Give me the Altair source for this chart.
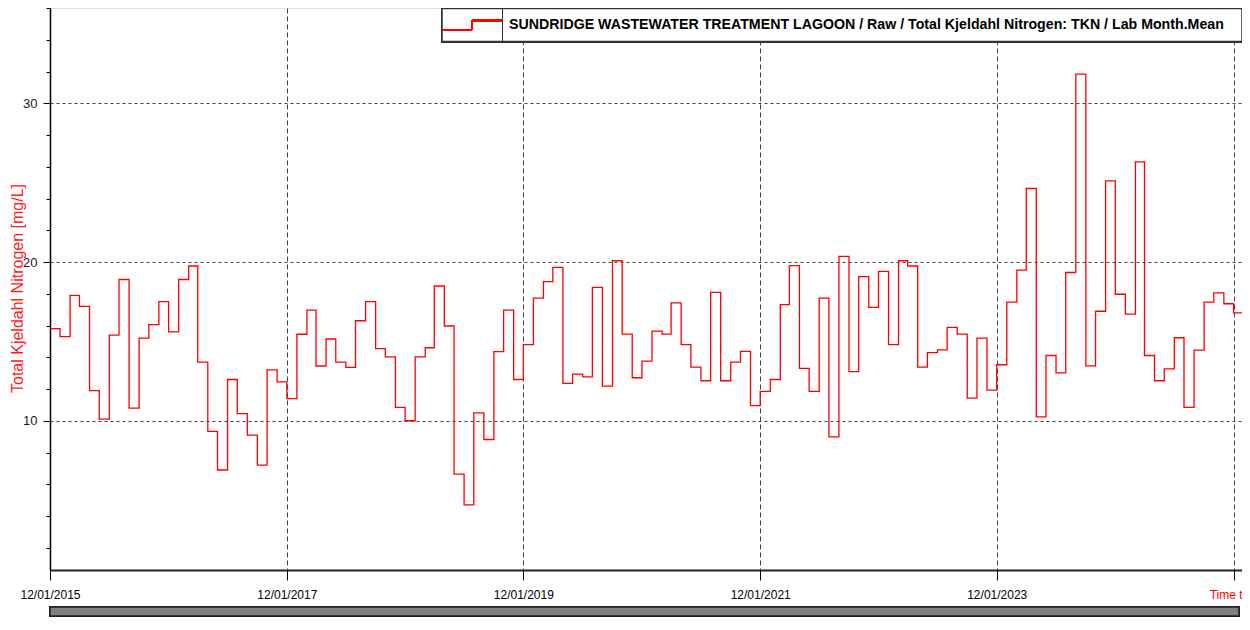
import altair as alt
import pandas as pd

# Monthly mean TKN (mg/L), Dec 2015 .. Dec 2025
tkn_values = [
    15.8, 15.3, 17.9, 17.2, 11.9, 10.1, 15.4, 18.9, 10.8, 15.2,
    16.05, 17.5, 15.6, 18.9, 19.75, 13.7, 9.33, 6.9, 12.6, 10.45,
    9.1, 7.2, 13.2, 12.45, 11.4, 15.45, 16.97, 13.45, 15.15, 13.7,
    13.36, 16.3, 17.5, 14.54, 14.03, 10.84, 10.0, 14.03, 14.6, 18.49,
    15.97, 6.64, 4.7, 10.5, 8.82, 14.35, 16.97, 12.6, 14.79, 17.73,
    18.76, 19.66, 12.35, 12.94, 12.77, 18.4, 12.18, 20.08, 15.46, 12.71,
    13.76, 15.65, 15.46, 17.42, 14.79, 13.38, 12.52, 18.09, 12.52, 13.7,
    14.37, 10.95, 11.85, 12.6, 17.31, 19.77, 13.3, 11.85, 17.73, 8.99,
    20.36, 13.1, 19.08, 17.14, 19.41, 14.79, 20.08, 19.75, 13.38, 14.29,
    14.47, 15.88, 15.46, 11.43, 15.21, 11.93, 13.53, 17.47, 19.49, 24.63,
    10.25, 14.11, 13.02, 19.34, 31.83, 13.46, 16.9, 25.11, 17.97, 16.72,
    26.31, 14.11, 12.52, 13.27, 15.23, 10.84, 14.45, 17.47, 18.06, 17.37,
    16.8,
]
first_month = "2015-12-01"
tick_years = [2015, 2017, 2019, 2021, 2023, 2025]
y_tick_values = list(range(2, 37, 2))
legend_label = "SUNDRIDGE WASTEWATER TREATMENT LAGOON / Raw / Total Kjeldahl Nitrogen: TKN / Lab Month.Mean"
y_title = "Total Kjeldahl Nitrogen [mg/L]"

months = pd.date_range(first_month, periods=len(tkn_values) + 1, freq="MS")
# the last month is held until the start of the following month (step-after)
df = pd.DataFrame({
    "date": [d.strftime("%Y-%m-%dT00:00:00Z") for d in months],
    "value": tkn_values + [tkn_values[-1]],
})

W, H = 1192, 562
FONT = "Liberation Sans, Arial, sans-serif"
LAST = "utcyear(datum.value) >= 2025"

x_enc = alt.X(
    "date:T",
    scale=alt.Scale(
        type="utc",
        domain=[alt.DateTime(year=2015, month=12, date=1, utc=True),
                alt.DateTime(year=2025, month=12, date=27, utc=True)],
    ),
    axis=alt.Axis(
        title=None,
        values=[alt.DateTime(year=y, month=12, date=1, utc=True) for y in tick_years],
        labelExpr=LAST + " ? 'Time t' : utcFormat(datum.value, '%m/%d/%Y')",
        labelColor={"condition": {"test": LAST, "value": "#ff0000"}, "value": "#000000"},
        labelOffset={"condition": {"test": LAST, "value": -8}, "value": 0},
        labelFont=FONT, labelFontSize=12, labelPadding=9, labelAlign="center",
        labelFlush=False, labelOverlap=False, labelBound=False,
        tickSize=10, tickColor="#000000",
        domainColor="#222222", domainWidth=2,
        grid=True, gridColor="#444444", gridDash=[5, 3], gridWidth=1,
    ),
)
y_enc = alt.Y(
    "value:Q",
    scale=alt.Scale(domain=[0.6, 36], nice=False, zero=False),
    axis=alt.Axis(
        title=y_title, titleColor="#ff2020", titleFont=FONT,
        titleFontSize=16, titleFontWeight="normal",
        titleX=-33, titleY=280, titleAngle=270, titleAlign="center",
        titleBaseline="middle",
        values=y_tick_values,
        labelExpr="datum.value % 10 === 0 ? datum.label : ''",
        labelFont=FONT, labelFontSize=13, labelColor="#1a1a2e", labelPadding=6,
        tickSize={"condition": {"test": "datum.value % 10 === 0", "value": 7}, "value": 4},
        tickColor="#000000",
        domainColor="#000000", domainWidth=1.5,
        grid=True, gridColor="#444444", gridDash=[3, 3], gridWidth=1,
        gridOpacity={"condition": {"test": "datum.value % 10 === 0", "value": 1}, "value": 0},
    ),
)

line = alt.Chart(df).mark_line(
    interpolate="step-after", color="#ff0000", strokeWidth=1.3, clip=True
).encode(x=x_enc, y=y_enc)

# legend box (top right)
box = alt.Chart(df).mark_rect(fill="white", stroke="#333333", strokeWidth=1.5).encode(
    x=alt.value(392), x2=alt.value(W), y=alt.value(0.5), y2=alt.value(33.5)
)
divider = alt.Chart(df).mark_rule(color="#333333", strokeWidth=1).encode(
    x=alt.value(452.5), y=alt.value(0.5), y2=alt.value(33.5)
)
seg1 = alt.Chart(df).mark_rule(color="#ff0000", strokeWidth=1.3).encode(
    x=alt.value(392), x2=alt.value(422), y=alt.value(22)
)
seg2 = alt.Chart(df).mark_rule(color="#ff0000", strokeWidth=1.3).encode(
    x=alt.value(422), y=alt.value(12.5), y2=alt.value(22)
)
seg3 = alt.Chart(df).mark_rule(color="#ff0000", strokeWidth=1.3).encode(
    x=alt.value(422), x2=alt.value(452.5), y=alt.value(12.5)
)
label = alt.Chart(pd.DataFrame({"t": [legend_label]})).mark_text(
    align="left", baseline="middle", font=FONT, fontSize=14.2, fontWeight="bold",
    color="#000000"
).encode(x=alt.value(459), y=alt.value(16.5), text="t:N")

# scrollbar under the time axis
scroll = alt.Chart(df).mark_rect(fill="#808080", stroke="#222222", strokeWidth=1.5).encode(
    x=alt.value(0), x2=alt.value(W - 3), y=alt.value(599), y2=alt.value(608)
)

chart = alt.layer(line, box, divider, seg1, seg2, seg3, label, scroll).properties(
    width=W, height=H,
    autosize=alt.AutoSizeParams(type="none"),
    padding={"left": 42, "top": 0, "right": 0, "bottom": 47},
).configure_view(stroke="#333333", strokeWidth=1.2).configure(background="white")

chart.save("out.html", embed_options={"renderer": "svg", "actions": False})
